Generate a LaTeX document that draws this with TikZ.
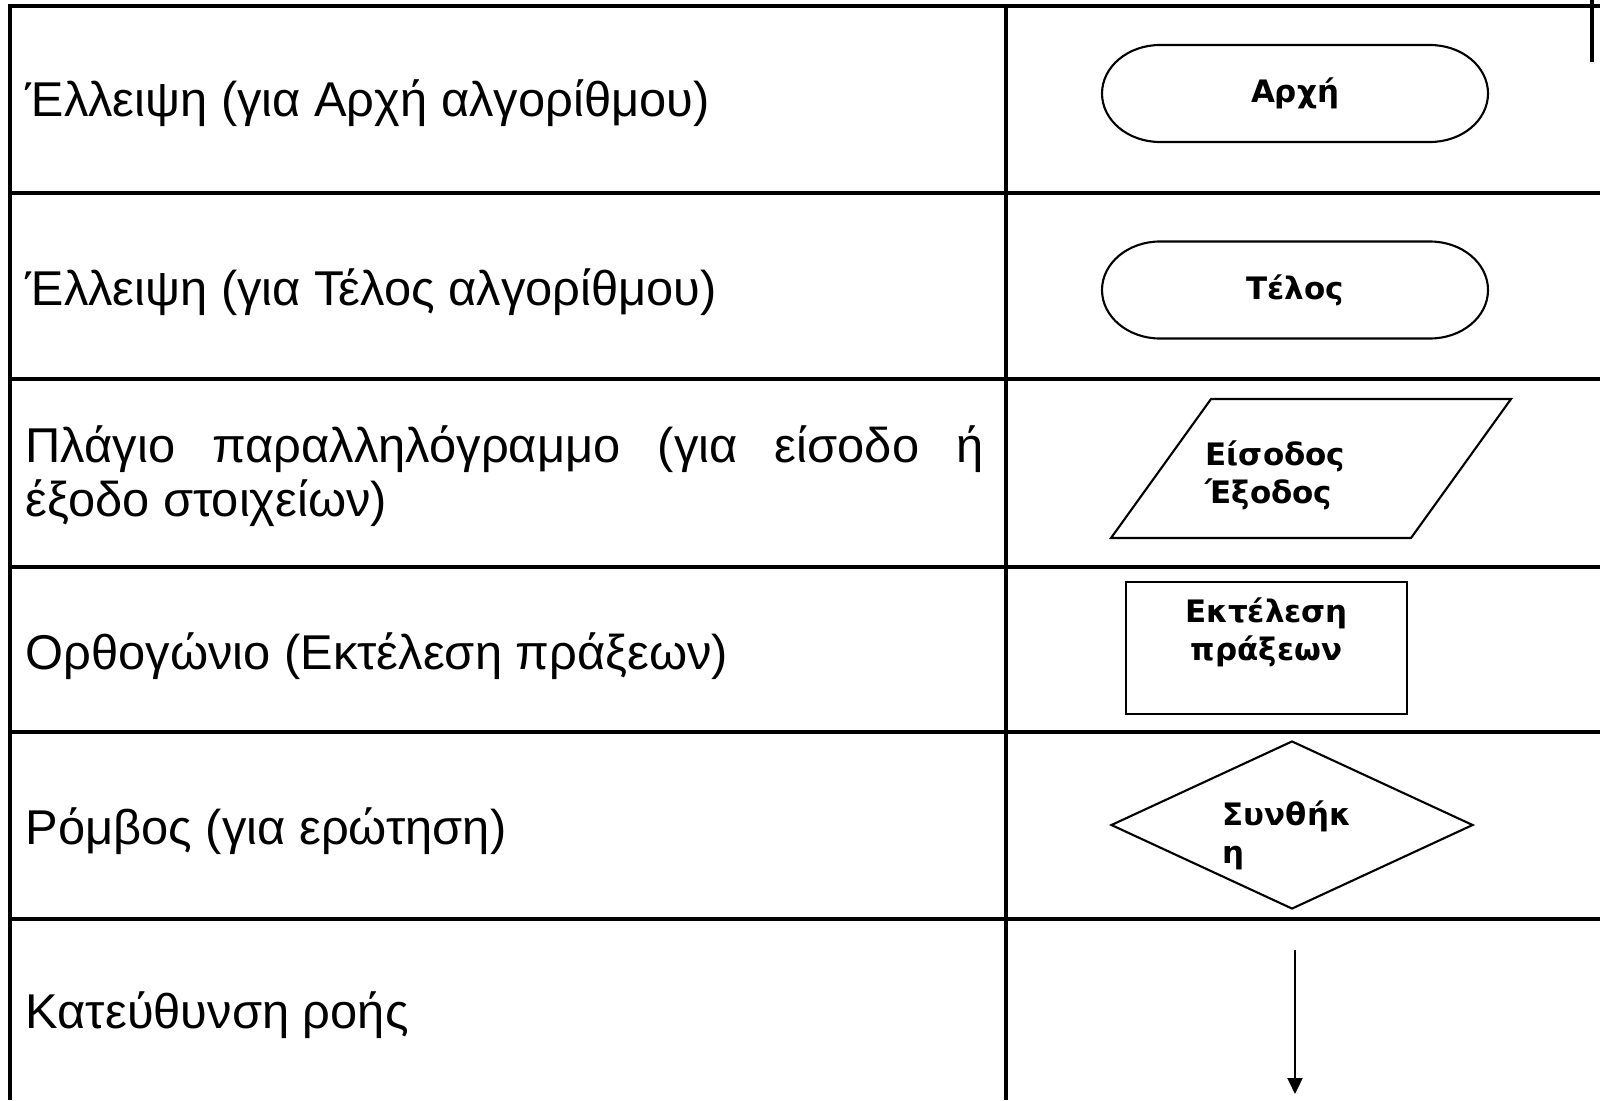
\documentclass[tikz,border=0pt]{standalone}
\usepackage{fontspec}
\usepackage{tikz}
\usetikzlibrary{arrows.meta, positioning, shapes.geometric}
\newfontfamily\cellfont{Liberation Sans}
\newfontfamily\symfont{DejaVu Sans}
\hbadness=10000

\begin{document}
\begin{tikzpicture}[
    grid/.style={line width=0.9pt, color=black},
    cell/.style={font=\cellfont\fontsize{13.9}{15.4}\selectfont, inner sep=0pt, anchor=base west},
    symtext/.style={font=\symfont\bfseries\fontsize{8.8}{10.8}\selectfont, inner sep=0pt},
    terminal/.style={rectangle, minimum width=3.86cm, minimum height=0.97cm, outer sep=0pt, symtext},
    procbox/.style={rectangle, minimum width=2.81cm, minimum height=1.32cm, draw, line width=0.6pt},
    decision/.style={diamond, minimum width=3.62cm, minimum height=1.68cm, draw, line width=0.6pt, inner sep=0pt},
    flow/.style={-{Triangle[width=0.15cm, length=0.16cm]}, line width=0.6pt}
]
    \useasboundingbox (0,0) rectangle (16,-11);
    \fill[white] (0,0) rectangle (16,-11);

    % table lines
    \draw[grid] (16,-0.06) -- (0.10,-0.06) -- (0.10,-11);
    \draw[grid] (10.06,-0.06) -- (10.06,-11);
    \draw[grid] (0.10,-1.93) -- (16,-1.93);
    \draw[grid] (0.10,-3.79) -- (16,-3.79);
    \draw[grid] (0.10,-5.67) -- (16,-5.67);
    \draw[grid] (0.10,-7.32) -- (16,-7.32);
    \draw[grid] (0.10,-9.19) -- (16,-9.19);
    \draw[grid] (15.92,0) -- (15.92,-0.62);

    % left column
    \node[cell] (ellstart) at (0.25,-1.17) {Έλλειψη (για Αρχή αλγορίθμου)};
    \node[cell] (ellend) at (0.25,-3.05) {Έλλειψη (για Τέλος αλγορίθμου)};
    \node[cell, anchor=west, text width=9.58cm, align=justify] (slanted) at (0.25,-4.765) {Πλάγιο παραλληλόγραμμο (για είσοδο ή\linebreak έξοδο στοιχείων)};
    \node[cell] (rectlbl) at (0.25,-6.69) {Ορθογώνιο (Εκτέλεση πράξεων)};
    \node[cell] (rhombus) at (0.25,-8.44) {Ρόμβος (για ερώτηση)};
    \node[cell] (flowlbl) at (0.25,-10.28) {Κατεύθυνση ροής};

    % symbols
    \node[terminal] (start) at (12.95,-0.935) {Αρχή};
    \node[terminal] (stop) at (12.95,-2.90) {Τέλος};
    \foreach \t in {start, stop}
        \draw[line width=0.6pt] ([xshift=0.58cm]\t.north west) -- ([xshift=-0.58cm]\t.north east)
            arc[start angle=90, end angle=-90, x radius=0.58cm, y radius=0.485cm]
            -- ([xshift=0.58cm]\t.south west)
            arc[start angle=270, end angle=90, x radius=0.58cm, y radius=0.485cm] -- cycle;

    \draw[line width=0.6pt] (11.11,-5.38) -- (14.11,-5.38) -- (15.11,-3.99) -- (12.11,-3.99) -- cycle;
    \node[symtext, align=left, anchor=west] (inout) at (12.05,-4.75) {Είσοδος\\Έξοδος};

    \node[procbox] (proc) at (12.665,-6.48) {};
    \node[symtext, align=center, below=0.16cm of proc.north] (proctext) {Εκτέλεση\\πράξεων};

    \node[decision] (cond) at (12.92,-8.25) {};
    \node[symtext, align=left, anchor=west] (condtext) at (12.22,-8.35) {Συνθήκ\\η};

    \coordinate (flowtop) at (12.95,-9.50);
    \coordinate (flowend) at (12.95,-10.94);
    \draw[flow] (flowtop) -- (flowend);
\end{tikzpicture}
\end{document}
